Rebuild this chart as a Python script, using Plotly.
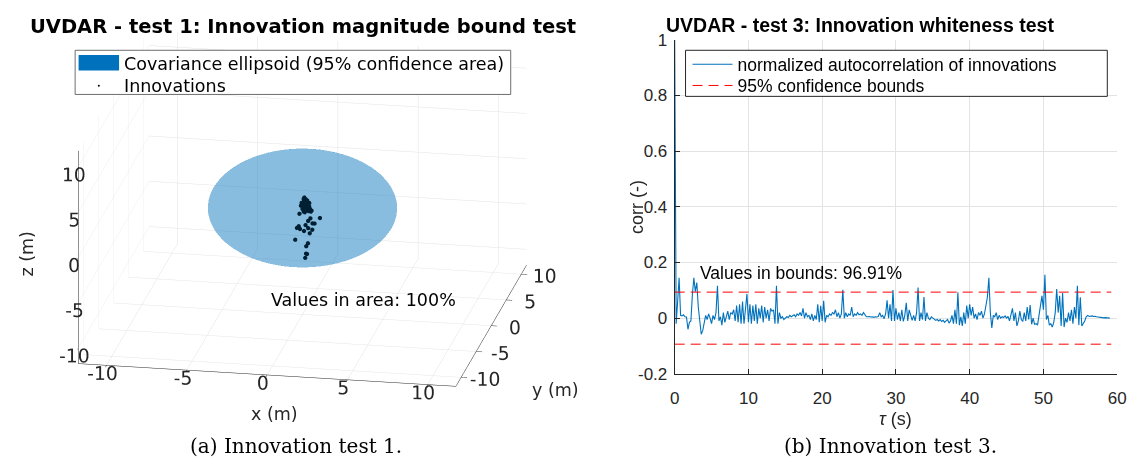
import plotly.graph_objects as go
import numpy as np

W, H = 1141, 476


def px(x):
    return x / W


def py(y):
    return 1 - y / H


# ---------------- data: test 1 (3D innovations + 95% covariance ellipsoid)
ell_center = [0.0, 0.0, 0.0]
ell_radii = [5.8, 5.75, 5.65]
axis_lim = 11.75
tick3d_vals = [-10, -5, 0, 5, 10]
tick3d_text = ["-10", "-5", "0", "5", "10"]

innov_x = [-0.21, 1.12, 0.49, 0.32, 0.64, 0.74, -0.21, 0.15, -0.35, 0.36,
           -0.18, 0.11, 0.58, 0.45, -0.42, 0.32, 0.22, 0.23, 0.28, 0.15,
           0.10, 0.15, 0.05, 0.20, 0.12, 0.08, 0.25, 0.18, -0.05, 0.30,
           0.22, 0.02, 0.35, 0.15, 0.28, -0.10, 0.40, 0.10, 0.20, 0.05,
           0.32, 0.45, 0.12, -0.02, 0.26, 0.18, 0.38, 0.08, 0.50, 0.14,
           0.22, 0.30, 0.00, 0.42, 0.16, 0.55, 0.10, 0.24, 0.34, 0.06]
innov_y = [0.10, -0.20, 0.00, 0.15, -0.10, 0.05, -0.15, 0.20, 0.00, -0.05,
           0.10, -0.10, 0.15, 0.00, -0.20, 0.10, 0.05, -0.05, 0.00, 0.10,
           0.05, -0.05, 0.10, 0.00, -0.10, 0.05, 0.00, 0.10, -0.05, 0.05,
           -0.10, 0.00, 0.05, 0.10, -0.05, 0.00, 0.05, -0.10, 0.10, 0.00,
           -0.05, 0.05, 0.00, 0.10, -0.10, 0.05, 0.00, -0.05, 0.10, 0.00,
           0.05, -0.05, 0.10, 0.00, -0.10, 0.05, 0.00, 0.05, -0.05, 0.10]
innov_z = [-0.71, -0.87, -1.08, -1.48, -1.56, -1.66, -1.94, -1.98, -2.23, -2.15,
           -2.39, -2.47, -2.42, -2.74, -3.43, -3.91, -4.22, -4.98, -5.04, -5.55,
           1.15, 1.05, 0.95, 1.00, 0.85, 0.75, 0.80, 0.65, 0.60, 0.55,
           0.50, 0.45, 0.40, 0.35, 0.30, 0.25, 0.20, 0.15, 0.10, 0.05,
           0.00, -0.05, -0.10, -0.15, -0.20, -0.25, -0.30, -0.35, -0.40, -0.45,
           0.70, 0.90, 0.20, 0.60, -0.05, -0.25, 0.45, 0.15, 0.35, -0.30]

# ---------------- data: test 3 (normalized autocorrelation, sampled every 0.2 s)
tau_step = 0.2
acorr = [
    1.0, -0.02, 0.06, 0.145, 0.01, 0.008, 0.012, 0.005, 0.004, -0.04,
    -0.015, -0.01, 0.085, 0.145, 0.095, 0.128, 0.04, 0.0, -0.058, -0.045,
    -0.015, 0.01, -0.005, 0.015, 0.0, -0.02, 0.01, -0.005, 0.02, 0.116,
    -0.01, 0.005, -0.025, 0.02, -0.015, 0.01, 0.025, -0.005, 0.02, 0.015,
    0.03, -0.01, 0.045, -0.015, 0.05, -0.02, 0.06, -0.02, 0.04, 0.087,
    -0.015, 0.05, -0.02, 0.045, -0.01, 0.05, -0.02, 0.035, 0.0, 0.045,
    -0.015, 0.04, 0.0, 0.03, -0.01, 0.035, 0.025, 0.03, -0.02, 0.116,
    -0.02, 0.02, 0.0, 0.005, -0.005, 0.0, 0.005, 0.002, 0.01, 0.005,
    0.008, 0.012, 0.005, 0.015, 0.01, 0.02, 0.008, 0.035, 0.0, 0.02,
    0.005, 0.01, -0.005, 0.015, -0.01, 0.01, -0.005, 0.05, -0.015, 0.044,
    -0.01, 0.062, -0.015, 0.01, 0.005, 0.015, 0.01, 0.02, 0.015, 0.03,
    0.005, 0.02, 0.0, 0.015, 0.102, 0.0, 0.02, 0.005, 0.015, 0.01,
    0.04, 0.005, 0.015, 0.01, 0.02, 0.012, 0.015, 0.01, 0.02, 0.01,
    0.005, 0.005, 0.006, 0.004, 0.005, 0.003, 0.005, 0.004, 0.006, 0.02,
    0.005, 0.01, -0.002, 0.015, 0.064, 0.0, 0.05, -0.01, 0.101, -0.01,
    0.035, -0.005, 0.02, -0.01, 0.03, -0.012, 0.01, 0.055, -0.01, 0.03,
    0.005, -0.008, 0.01, -0.01, 0.02, 0.11, -0.01, 0.02, -0.005, 0.076,
    -0.01, 0.02, 0.0, -0.005, 0.005, 0.0, -0.003, -0.008, -0.005, -0.01,
    -0.005, -0.012, -0.008, -0.015, -0.01, -0.005, -0.018, -0.01, 0.01, -0.02,
    0.03, -0.02, 0.093, -0.025, 0.005, -0.028, 0.02, -0.02, 0.045, 0.0,
    0.05, 0.01, 0.04, 0.0, 0.015, -0.005, 0.02, 0.01, 0.025, 0.0,
    0.015, 0.04, 0.075, 0.145, 0.02, -0.035, 0.01, 0.005, 0.02, -0.005,
    0.01, 0.0, 0.005, 0.002, 0.008, 0.0, 0.006, -0.01, 0.01, 0.035,
    -0.01, 0.02, -0.028, -0.01, 0.025, -0.005, -0.012, 0.02, -0.01, 0.04,
    -0.005, 0.047, -0.022, 0.0, -0.022, -0.02, -0.025, 0.01, 0.03, 0.08,
    0.03, 0.156, -0.005, 0.01, -0.025, -0.02, -0.032, -0.015, 0.02, 0.105,
    0.02, 0.08, -0.028, 0.09, -0.032, 0.0, -0.015, 0.02, -0.01, 0.03,
    -0.02, 0.04, 0.0, 0.116, -0.025, 0.075, -0.028, -0.02, -0.01, 0.005,
    0.01, 0.006, 0.007, 0.008, 0.006, 0.007, 0.005, 0.004, 0.003, 0.002,
    0.002, 0.001, 0.002, 0.001, 0.0, 0.0,
]
tau = [round(i * tau_step, 1) for i in range(len(acorr))]
conf_bound = 0.0935
bound_tau = [0.0, 59.2]
xticks_r = [0, 10, 20, 30, 40, 50, 60]
xticks_r_text = ["0", "10", "20", "30", "40", "50", "60"]
yticks_r = [-0.2, 0, 0.2, 0.4, 0.6, 0.8, 1.0]
yticks_r_text = ["-0.2", "0", "0.2", "0.4", "0.6", "0.8", "1"]

BLUE = "rgb(0,114,189)"
AX = "#262626"
GRID = "#E3E3E3"
SANS_L = "DejaVu Sans"
SANS_R = "Liberation Sans"

fig = go.Figure()

# ---- ellipsoid surface
u = np.linspace(0, 2 * np.pi, 61)
v = np.linspace(0, np.pi, 31)
ex = ell_center[0] + ell_radii[0] * np.outer(np.cos(u), np.sin(v))
ey = ell_center[1] + ell_radii[1] * np.outer(np.sin(u), np.sin(v))
ez = ell_center[2] + ell_radii[2] * np.outer(np.ones_like(u), np.cos(v))
fig.add_trace(go.Surface(
    x=ex, y=ey, z=ez, scene="scene",
    colorscale=[[0, BLUE], [1, BLUE]], showscale=False, opacity=0.27,
    lighting=dict(ambient=1.0, diffuse=0.0, specular=0.0, roughness=1.0, fresnel=0.0),
    hoverinfo="skip", showlegend=False, name="Covariance ellipsoid (95% confidence area)",
))
fig.add_trace(go.Scatter3d(
    x=innov_x, y=innov_y, z=innov_z, mode="markers", scene="scene",
    marker=dict(size=2.5, color="#000000"), showlegend=False, name="Innovations",
))

# ---- whiteness test
fig.add_trace(go.Scatter(
    x=tau, y=acorr, mode="lines", line=dict(color=BLUE, width=1.1),
    name="normalized autocorrelation of innovations", xaxis="x", yaxis="y", legend="legend",
))
fig.add_trace(go.Scatter(
    x=bound_tau + [None] + bound_tau,
    y=[conf_bound, conf_bound, None, -conf_bound, -conf_bound],
    mode="lines", line=dict(color="#FF0000", width=1, dash="10px,6px"),
    name="95% confidence bounds", xaxis="x", yaxis="y", legend="legend2",
))

axis3d = dict(
    range=[-axis_lim, axis_lim], tickvals=tick3d_vals, ticktext=tick3d_text,
    showgrid=True, gridcolor=GRID, gridwidth=1, showbackground=False,
    showline=True, linecolor=AX, linewidth=1, zeroline=False,
    ticks="outside", ticklen=6, tickcolor=AX, showspikes=False, tickangle=0,
    tickfont=dict(family=SANS_L, size=15, color=AX), title=dict(text=""),
)

eye_dir = np.array([0.1873, -1.0, 0.345])
eye = eye_dir / np.linalg.norm(eye_dir) * 2.0
cx, cy = 301.6, 207.2
half_w, half_h = 270, 200
box_scale = 2.0

legend_common = dict(
    xanchor="left", yanchor="top", bgcolor="rgba(0,0,0,0)", borderwidth=0, itemwidth=40,
    font=dict(family=SANS_R, size=17.5, color="#000000"),
)

fig.update_layout(
    width=W, height=H, margin=dict(l=0, r=0, t=0, b=0),
    paper_bgcolor="white", plot_bgcolor="white",
    scene=dict(
        domain=dict(x=[px(cx - half_w), px(cx + half_w)], y=[py(cy + half_h), py(cy - half_h)]),
        xaxis=axis3d, yaxis=axis3d, zaxis=axis3d,
        aspectmode="manual", aspectratio=dict(x=box_scale, y=box_scale, z=0.585 * box_scale),
        camera=dict(eye=dict(x=eye[0], y=eye[1], z=eye[2]), up=dict(x=0, y=0, z=1),
                    center=dict(x=0, y=0, z=0), projection=dict(type="orthographic")),
        bgcolor="rgba(0,0,0,0)",
    ),
    xaxis=dict(
        domain=[px(678), px(1126)], range=[0, 60], tickvals=xticks_r, ticktext=xticks_r_text,
        showline=True, linecolor=AX, linewidth=1, ticks="inside", ticklen=5, tickcolor=AX,
        showgrid=True, gridcolor=GRID, zeroline=False, anchor="y",
        tickfont=dict(family=SANS_R, size=17, color=AX), ticklabelstandoff=9,
    ),
    yaxis=dict(
        domain=[py(380), py(32)], range=[-0.2, 1.0], tickvals=yticks_r, ticktext=yticks_r_text,
        showline=True, linecolor=AX, linewidth=1, ticks="inside", ticklen=5, tickcolor=AX,
        showgrid=True, gridcolor=GRID, zeroline=False, anchor="x",
        tickfont=dict(family=SANS_R, size=17, color=AX), ticklabelstandoff=3,
    ),
    legend=dict(x=px(691), y=py(39), **legend_common),
    legend2=dict(x=px(691), y=py(61), **legend_common),
    showlegend=True,
)

annots = [
    dict(x=px(302), y=py(18), text="<b>UVDAR - test 1: Innovation magnitude bound test</b>",
         font=dict(family=SANS_L, size=19.5, color="#000000")),
    dict(x=px(866), y=py(17), text="<b>UVDAR - test 3: Innovation whiteness test</b>",
         font=dict(family=SANS_R, size=19.5, color="#000000")),
    dict(x=px(295), y=py(455), text="(a) Innovation test 1.",
         font=dict(family="DejaVu Serif", size=20, color="#000000")),
    dict(x=px(896), y=py(455), text="(b) Innovation test 3.",
         font=dict(family="DejaVu Serif", size=20, color="#000000")),
    dict(x=px(902), y=py(427), text="<i>τ</i> (s)", font=dict(family=SANS_R, size=18, color=AX)),
    dict(x=px(640), y=py(206), text="corr (-)", textangle=-90, font=dict(family=SANS_R, size=18, color=AX)),
    dict(x=px(273), y=py(422), text="x (m)", font=dict(family=SANS_L, size=17.5, color=AX)),
    dict(x=px(557), y=py(397), text="y (m)", font=dict(family=SANS_L, size=17.5, color=AX)),
    dict(x=px(22), y=py(255), text="z (m)", textangle=-90, font=dict(family=SANS_L, size=17.5, color=AX)),
    dict(x=px(267), y=py(303), text="Values in area: 100%", xanchor="left",
         font=dict(family=SANS_L, size=17.5, color="#000000")),
    dict(x=px(118), y=py(57), text="Covariance ellipsoid (95% confidence area)", xanchor="left",
         font=dict(family=SANS_L, size=17.5, color="#000000")),
    dict(x=px(118), y=py(80), text="Innovations", xanchor="left",
         font=dict(family=SANS_L, size=17.5, color="#000000")),
    dict(x=3.2, y=0.162, xref="x", yref="y", text="Values in bounds: 96.91%", xanchor="left",
         font=dict(family=SANS_R, size=17.5, color="#000000")),
]
for a in annots:
    a.setdefault("xref", "paper")
    a.setdefault("yref", "paper")
    a.setdefault("xanchor", "center")
    a["yanchor"] = "middle"
    a["showarrow"] = False
fig.update_layout(annotations=annots)

shapes = [
    # frame of the whiteness-test legend (entries drawn by the plotly legends on top)
    dict(type="rect", xref="paper", yref="paper", x0=px(689), x1=px(1116), y0=py(91), y1=py(43),
         fillcolor="white", line=dict(color=AX, width=1), layer="above"),
    # legend of the 3D test
    dict(type="rect", xref="paper", yref="paper", x0=px(71), x1=px(512), y0=py(89), y1=py(43),
         fillcolor="white", line=dict(color="#6E6E6E", width=1), layer="above"),
    dict(type="rect", xref="paper", yref="paper", x0=px(74.5), x1=px(115.5), y0=py(64), y1=py(48),
         fillcolor=BLUE, line=dict(width=0), layer="above"),
    dict(type="circle", xref="paper", yref="paper", x0=px(94), x1=px(96), y0=py(81), y1=py(79),
         fillcolor="#000000", line=dict(width=0), layer="above"),
]
fig.update_layout(shapes=shapes)

fig.write_html("out.html", config={"displayModeBar": False})
